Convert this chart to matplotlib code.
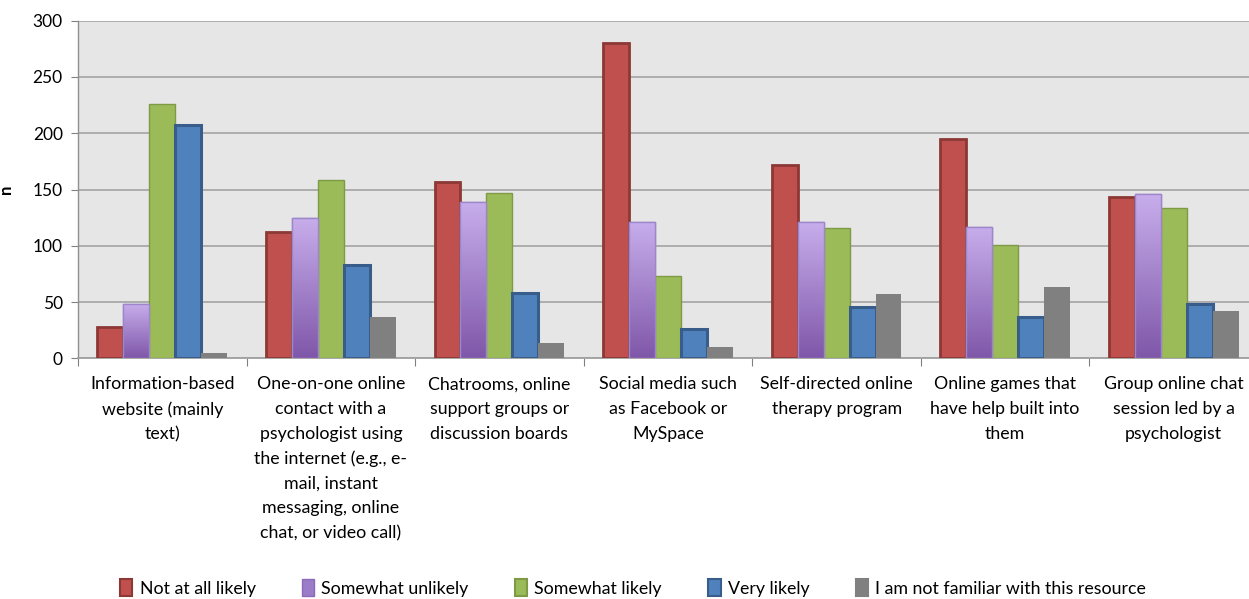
import matplotlib
matplotlib.use("Agg")
import matplotlib.pyplot as plt
import numpy as np
from matplotlib.patches import Patch
from matplotlib.colors import LinearSegmentedColormap

categories = [
    "Information-based\nwebsite (mainly\ntext)",
    "One-on-one online\ncontact with a\npsychologist using\nthe internet (e.g., e-\nmail, instant\nmessaging, online\nchat, or video call)",
    "Chatrooms, online\nsupport groups or\ndiscussion boards",
    "Social media such\nas Facebook or\nMySpace",
    "Self-directed online\ntherapy program",
    "Online games that\nhave help built into\nthem",
    "Group online chat\nsession led by a\npsychologist",
]
series_names = ["Not at all likely", "Somewhat unlikely", "Somewhat likely",
                "Very likely", "I am not familiar with this resource"]
not_at_all = [28, 112, 157, 280, 172, 195, 143]
somewhat_unlikely = [48, 125, 139, 121, 121, 117, 146]
somewhat_likely = [226, 158, 147, 73, 116, 101, 134]
very_likely = [207, 83, 58, 26, 46, 37, 48]
not_familiar = [5, 37, 14, 10, 57, 63, 42]
yticks = [0, 50, 100, 150, 200, 250, 300]

series = [not_at_all, somewhat_unlikely, somewhat_likely, very_likely, not_familiar]
faces = ["#C0504D", "#A58BCF", "#9BBB59", "#4F81BD", "#808080"]
edges = ["#8C3835", "#9A82C8", "#7E9A45", "#385D8A", "#808080"]
lws = [2.0, 1.0, 1.0, 2.2, 0.0]

FONT = "Lato"
plt.rcParams["font.family"] = [FONT, "DejaVu Sans"]

fig = plt.figure(figsize=(12.49, 5.99), dpi=100)
ax = fig.add_axes([78 / 1249, (599 - 358.3) / 599, 1180 / 1249, 337.6 / 599])
ax.set_facecolor("#E6E6E6")

x = np.arange(len(categories))
bw = 0.154
cmap = LinearSegmentedColormap.from_list("pur", ["#7F57A9", "#C8AEEC"])
grad = np.linspace(0, 1, 256).reshape(-1, 1)
for i, vals in enumerate(series):
    off = (i - 2) * bw
    bars = ax.bar(x + off, vals, bw, color=faces[i], edgecolor=edges[i],
                  linewidth=lws[i], zorder=3, label=series_names[i])
    if i == 1:
        for b in bars:
            bx, by = b.get_x(), b.get_y()
            w, h = b.get_width(), b.get_height()
            im = ax.imshow(grad, cmap=cmap, origin="lower", aspect="auto",
                           extent=[bx, bx + w, 0, h], zorder=3.5,
                           interpolation="bicubic")
            im.set_clip_path(b)
            ax.bar(bx + w / 2, h, w, fill=False, edgecolor="#9D86C9",
                   linewidth=1.0, zorder=4)

ax.set_xlim(-0.5, 6.5)
ax.set_ylim(0, 300)
ax.set_yticks(yticks)
ax.yaxis.grid(True, color="#A8A8A8", linewidth=1.3, zorder=1)
ax.set_axisbelow(True)
for s in ["top", "right"]:
    ax.spines[s].set_visible(False)
ax.spines["left"].set_color("#909090")
ax.spines["bottom"].set_color("#A0A0A0")
ax.spines["left"].set_linewidth(1.0)
ax.spines["bottom"].set_linewidth(1.3)
ax.tick_params(axis="y", colors="#808080", labelcolor="black", labelsize=12.5,
               length=5, pad=6)
ax.set_xticks(np.arange(-0.5, 7.0, 1.0))
ax.set_xticklabels([])
ax.tick_params(axis="x", which="major", colors="#808080", length=6, direction="out")
ax.set_xticks(x, minor=True)
ax.set_xticklabels(categories, minor=True, fontsize=12.8, linespacing=1.66,
                   va="top", ha="center")
ax.tick_params(axis="x", which="minor", length=0, pad=13)
ax.set_ylabel("n", fontsize=12, fontweight="bold")
ax.yaxis.set_label_coords(-0.054, 0.5)

handles = [Patch(facecolor=faces[i], edgecolor=edges[i] if i != 4 else "#808080",
                 linewidth=1.5) for i in range(5)]
handles[1] = Patch(facecolor="#9A7CC8", edgecolor="#8B6BB8", linewidth=1.0)
fig.legend(handles, series_names, loc="center", bbox_to_anchor=(633 / 1249, 1 - 588 / 599),
           ncol=5, frameon=False, fontsize=12.8, handlelength=0.7, handleheight=1.1,
           handletextpad=0.4, columnspacing=2.6, borderaxespad=0)

fig.savefig("out.png", dpi=100)
